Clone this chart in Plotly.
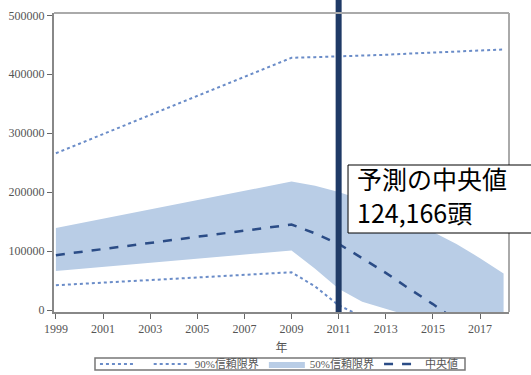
import plotly.graph_objects as go

years = [1999, 2009, 2010, 2011, 2012, 2013, 2014, 2015, 2016, 2017, 2018]
upper90 = [266000, 428000, 429000, 430000, 431500, 433000, 435000, 437000, 439000, 440500, 442000]
lower90 = [42000, 64000, 40000, 8000, -11000, -40000, -70000, -100000, -130000, -160000, -190000]
upper50 = [139000, 218000, 211000, 200000, 187000, 172000, 153000, 132000, 112000, 88000, 62000]
lower50 = [66000, 101000, 70000, 36000, 14000, 2000, -10000, -25000, -40000, -55000, -70000]
median = [93000, 145000, 130000, 112000, 88000, 63000, 36000, 10000, -18000, -46000, -74000]

forecast_year = 2011
note_lines = ["予測の中央値", "124,166頭"]
x_ticks = [1999, 2001, 2003, 2005, 2007, 2009, 2011, 2013, 2015, 2017]
y_ticks = [0, 100000, 200000, 300000, 400000, 500000]

serif = '"Liberation Serif", "Times New Roman", "Noto Sans CJK JP", serif'
tick_col = "#555555"

fig = go.Figure()
fig.add_trace(go.Scatter(x=years, y=lower50, mode="lines", line=dict(width=0),
                         showlegend=False, hoverinfo="skip"))
fig.add_trace(go.Scatter(x=years, y=upper50, mode="lines", line=dict(width=0),
                         fill="tonexty", fillcolor="#b9cde6", name="50%信頼限界",
                         legendrank=3))
fig.add_trace(go.Scatter(x=years, y=upper90, mode="lines",
                         line=dict(color="#6a8cc8", width=2, dash="dot"),
                         name=" ", legendrank=1))
fig.add_trace(go.Scatter(x=years, y=lower90, mode="lines",
                         line=dict(color="#6a8cc8", width=2, dash="dot"),
                         name="90%信頼限界", legendrank=2))
fig.add_trace(go.Scatter(x=years, y=median, mode="lines",
                         line=dict(color="#2b4c86", width=2.5, dash="dash"),
                         name="中央値", legendrank=4))

# forecast marker line
fig.add_shape(type="line", xref="x", yref="paper", x0=forecast_year, x1=forecast_year,
              y0=0, y1=1.06, line=dict(color="#1f3a66", width=6), layer="above")
# top/right frame
fig.add_shape(type="line", xref="paper", yref="paper", x0=0, x1=1, y0=1, y1=1,
              line=dict(color="#aaaaaa", width=2))
fig.add_shape(type="line", xref="paper", yref="paper", x0=1, x1=1, y0=0, y1=1,
              line=dict(color="#aaaaaa", width=2))
# note box
fig.add_shape(type="rect", xref="paper", yref="paper", x0=0.6462, x1=1.12,
              y0=0.2642, y1=0.4916, line=dict(color="#000000", width=1),
              fillcolor="#ffffff", layer="above")
# legend frame
fig.add_shape(type="rect", xref="paper", yref="paper", x0=0.0901, x1=0.9033,
              y0=-0.194, y1=-0.154, line=dict(color="#777777", width=1.5),
              fillcolor="rgba(0,0,0,0)")

for txt, yp in zip(note_lines, [0.4465, 0.3344]):
    fig.add_annotation(text=txt, xref="paper", yref="paper", x=0.6615, y=yp,
                       xanchor="left", yanchor="middle", showarrow=False,
                       font=dict(family="Noto Sans CJK JP", size=25, color="#000000"))

fig.update_layout(
    width=531, height=375,
    margin=dict(l=54, r=22, t=13, b=63, autoexpand=False),
    plot_bgcolor="#ffffff", paper_bgcolor="#ffffff",
    font=dict(family=serif, size=12, color=tick_col),
    legend=dict(orientation="h", x=0.09, y=-0.174, xanchor="left", yanchor="middle",
                borderwidth=0, bgcolor="rgba(0,0,0,0)", font=dict(size=11, color=tick_col),
                tracegroupgap=0, itemwidth=36, traceorder="normal"),
    xaxis=dict(range=[1998.92, 2018.23], tickvals=x_ticks, ticks="outside", ticklen=5,
               tickcolor="#666666", showgrid=False, zeroline=False, showline=True,
               linecolor="#888888", linewidth=2, automargin=False,
               title=dict(text="年", standoff=8, font=dict(size=12, color=tick_col))),
    yaxis=dict(range=[-3400, 503900], tickvals=y_ticks, ticks="outside", ticklen=5,
               tickcolor="#666666", showgrid=False, zeroline=False, showline=True,
               linecolor="#888888", linewidth=2, tickformat="d", automargin=False),
)

fig.write_html("out.html")
